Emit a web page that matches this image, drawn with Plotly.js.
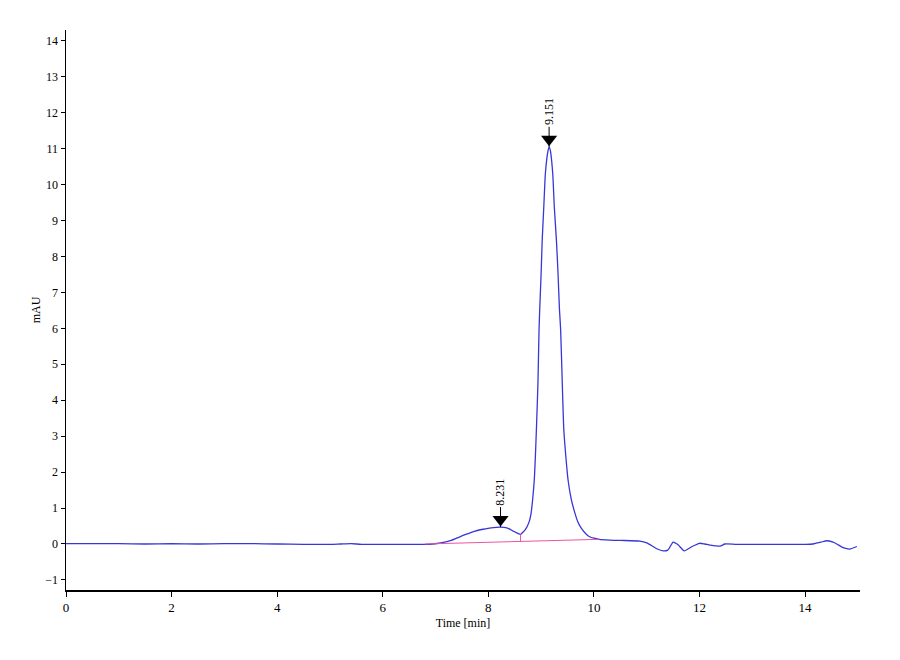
<!DOCTYPE html>
<html>
<head>
<meta charset="utf-8">
<script src="https://cdn.plot.ly/plotly-3.0.1.min.js"></script>
<style>
  body { margin: 0; background: #fff; }
  #chrom { width: 900px; height: 660px; }
</style>
</head>
<body>
<div id="chrom"></div>
<script>
// chromatogram signal (time in min, signal in mAU)
let timeMin = [
  0, 0.5, 1, 1.5, 2, 2.5, 3, 3.5, 4, 4.5, 5, 5.2, 5.4, 5.6, 6, 6.5, 6.8,
  6.95, 7.1, 7.3, 7.46, 7.6, 7.75, 7.9, 8.05, 8.23, 8.35, 8.47, 8.55, 8.61,
  8.65, 8.7, 8.74, 8.78, 8.81, 8.84, 8.87, 8.89, 8.91, 8.94, 8.96, 8.975,
  9.0, 9.02, 9.05, 9.08, 9.11, 9.13, 9.151, 9.17, 9.18, 9.22, 9.25, 9.29,
  9.32, 9.345, 9.37, 9.4, 9.43, 9.47, 9.51, 9.57, 9.64, 9.7, 9.77, 9.85,
  9.92, 10.0, 10.1, 10.3, 10.5, 10.87, 11.0, 11.12, 11.2, 11.31, 11.4, 11.5,
  11.55, 11.6, 11.71, 11.78, 11.86, 12.0, 12.1, 12.2, 12.39, 12.48, 12.7,
  13.0, 13.5, 14.0, 14.15, 14.3, 14.41, 14.53, 14.6, 14.72, 14.85, 14.98
];
let signalMAU = [
  0.01, 0.01, 0.01, 0.0, 0.01, 0.0, 0.01, 0.01, 0.0, -0.01, -0.01, 0.0, 0.01, -0.01, -0.01, -0.01, -0.01,
  0.0, 0.03, 0.1, 0.2, 0.28, 0.36, 0.41, 0.45, 0.47, 0.45, 0.36, 0.3, 0.27,
  0.32, 0.4, 0.5, 0.65, 0.86, 1.25, 1.78, 2.4, 3.17, 4.5, 5.94, 6.59,
  7.53, 8.44, 9.37, 10.3, 10.75, 10.94, 11.05, 10.98, 10.9, 10.3, 9.37, 8.44,
  7.53, 6.59, 5.94, 4.5, 3.17, 2.4, 1.78, 1.25, 0.86, 0.6, 0.42, 0.28,
  0.2, 0.16, 0.13, 0.11, 0.1, 0.08, 0.03, -0.07, -0.14, -0.19, -0.17, 0.05,
  0.02, -0.03, -0.19, -0.14, -0.07, 0.02, 0.0, -0.03, -0.06, 0.0, -0.01,
  -0.01, -0.01, -0.01, 0.0, 0.05, 0.09, 0.05, 0.0, -0.1, -0.14, -0.07
];

// integration baseline and drop line between the two peaks
let baseTime = [6.8, 10.1, null, 8.61, 8.61];
let baseMAU = [0.0, 0.13, null, 0.065, 0.27];

// peak labels
let peakTime = [8.231, 9.151];
let peakMAU = [0.47, 11.05];
let peakLabel = ["8.231", "9.151"];

let xTicks = [0, 2, 4, 6, 8, 10, 12, 14];

let serif = '"Liberation Serif", "Times New Roman", serif';
let markLift = 0.21;

let traces = [
  {
    x: timeMin, y: signalMAU,
    mode: "lines",
    line: { color: "rgb(55,55,215)", width: 1.3, shape: "spline", smoothing: 0.6 },
    hoverinfo: "skip"
  },
  {
    x: baseTime, y: baseMAU,
    mode: "lines",
    line: { color: "rgb(235,85,165)", width: 1 },
    connectgaps: false,
    hoverinfo: "skip"
  },
  {
    x: peakTime,
    y: peakMAU.map(v => v + markLift),
    mode: "markers",
    marker: { symbol: "triangle-down", size: 14, color: "black" },
    hoverinfo: "skip"
  }
];

let notes = peakTime.map((t, i) => ({
  x: t, y: peakMAU[i],
  text: peakLabel[i],
  textangle: -90,
  showarrow: true,
  arrowhead: 0,
  arrowwidth: 1,
  arrowcolor: "black",
  ax: 0, ay: -35,
  font: { family: serif, size: 12, color: "black" }
}));

let layout = {
  width: 900,
  height: 660,
  margin: { l: 66, r: 40, t: 30, b: 70 },
  paper_bgcolor: "white",
  plot_bgcolor: "white",
  showlegend: false,
  font: { family: serif, color: "black" },
  xaxis: {
    range: [0, 15.04],
    tickvals: xTicks,
    ticks: "outside", ticklen: 5, tickwidth: 1, tickcolor: "black",
    showline: true, linecolor: "black", linewidth: 1.5,
    showgrid: false, zeroline: false,
    tickfont: { family: serif, size: 13 },
    title: { text: "Time [min]", font: { family: serif, size: 12 }, standoff: 4 }
  },
  yaxis: {
    range: [-1.28, 14.3],
    dtick: 1,
    ticks: "outside", ticklen: 4, tickwidth: 1, tickcolor: "black",
    showline: true, linecolor: "black", linewidth: 1.5,
    showgrid: false, zeroline: false,
    tickfont: { family: serif, size: 12 },
    title: { text: "mAU", font: { family: serif, size: 12 }, standoff: 2 }
  },
  annotations: notes
};

Plotly.newPlot("chrom", traces, layout, { displayModeBar: false, staticPlot: true });
</script>
</body>
</html>
